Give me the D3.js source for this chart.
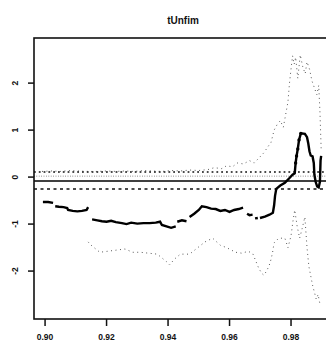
<!DOCTYPE html>
<html>
<head>
<meta charset="utf-8">
<script src="https://cdn.jsdelivr.net/npm/d3@7"></script>
<style>
  html, body { margin: 0; padding: 0; background: #fff; }
  svg { display: block; }
  text { font-family: "Liberation Sans", Arial, sans-serif; font-weight: bold; fill: #111; }
</style>
</head>
<body>
<div id="chart"></div>
<script>
/* tUnfim: estimate with pointwise bands and reference lines */
var title = 'tUnfim';
var xTicks = [0.90, 0.92, 0.94, 0.96, 0.98];
var xTickLabels = ['0.90', '0.92', '0.94', '0.96', '0.98'];
var yTicks = [-2, -1, 0, 1, 2];
var yTickLabels = ['-2', '-1', '0', '1', '2'];

// reference lines: upper dotted, faint dotted, solid, dashed
var refValues = [0.106, 0.02, -0.085, -0.255];

// main estimate (null = break)
var mainX = [0.8993, 0.9010, 0.9026, null,
  0.9033, 0.9045, 0.9060, 0.9072, 0.9075, 0.9090, 0.9105, 0.9120, 0.9135, 0.9140, null,
  0.9153, 0.9170, 0.9185, 0.9200, 0.9215, 0.9230, 0.9250, 0.9265, 0.9280, 0.9300, 0.9320, 0.9340, 0.9360, 0.9374,
  0.9380, 0.9395, 0.9410, 0.9425, null,
  0.9430, 0.9445, 0.9460, null,
  0.9470, 0.9485, 0.9500, 0.9510, 0.9525, 0.9540, 0.9555, 0.9570, 0.9585, 0.9600, 0.9615, 0.9630, 0.9644, null,
  0.9657, 0.9665, 0.9675, null,
  0.9683, 0.9692, null,
  0.9699, 0.9715, 0.9730, 0.9741, 0.9745, 0.9748, 0.9752, 0.9765, 0.9780, 0.9795, 0.9805, 0.9812,
  0.9815, 0.9818, 0.9822, 0.9826, 0.9832, 0.9845, 0.9852, 0.9856, 0.9860, 0.9864, 0.9870, 0.9874,
  0.9876, 0.9880, 0.9885, 0.9890, 0.9894, 0.9896, 0.9898];
var mainY = [-0.53, -0.53, -0.55, null,
  -0.62, -0.63, -0.64, -0.66, -0.70, -0.72, -0.73, -0.72, -0.70, -0.64, null,
  -0.90, -0.92, -0.94, -0.95, -0.93, -0.96, -0.98, -1.00, -0.97, -0.99, -0.98, -0.98, -0.97, -0.95,
  -1.02, -1.05, -1.08, -1.05, null,
  -0.95, -0.92, -0.94, null,
  -0.85, -0.78, -0.70, -0.62, -0.64, -0.67, -0.68, -0.72, -0.70, -0.74, -0.70, -0.68, -0.65, null,
  -0.78, -0.81, -0.80, null,
  -0.88, -0.87, null,
  -0.87, -0.84, -0.80, -0.76, -0.60, -0.40, -0.25, -0.18, -0.12, -0.02, 0.05, 0.08,
  0.30, 0.45, 0.60, 0.79, 0.93, 0.92, 0.85, 0.72, 0.55, 0.46, 0.44, 0.30,
  0.05, -0.10, -0.20, -0.22, -0.10, 0.35, 0.45];

// upper band (dotted)
var upperX = [0.8990, 0.9020, 0.9050, 0.9080, 0.9110, 0.9140, 0.9170, 0.9200, 0.9230, 0.9260, 0.9290, 0.9320,
  0.9350, 0.9380, 0.9410, 0.9440, 0.9470, 0.9500, 0.9530, 0.9550, 0.9575, 0.9590, 0.9610, 0.9625, 0.9645,
  0.9665, 0.9680, 0.9699, 0.9712, 0.9722, 0.9735, 0.9745, 0.9755, 0.9765, 0.9775, 0.9785, 0.9790, 0.9795,
  0.9800, 0.9805, 0.9810, 0.9815, 0.9822, 0.9830, 0.9838, 0.9846, 0.9852, 0.9860, 0.9868, 0.9876, 0.9884,
  0.9890, 0.9894, 0.9896, 0.9898];
var upperY = [0.12, 0.13, 0.12, 0.14, 0.13, 0.12, 0.12, 0.13, 0.12, 0.13, 0.12, 0.14,
  0.13, 0.12, 0.14, 0.13, 0.15, 0.14, 0.16, 0.20, 0.18, 0.24, 0.22, 0.30, 0.28,
  0.35, 0.30, 0.43, 0.52, 0.62, 0.74, 1.00, 1.12, 1.20, 1.06, 1.42, 1.60, 2.00,
  2.30, 2.58, 2.40, 2.55, 2.10, 2.60, 2.35, 2.20, 2.45, 2.30, 2.05, 1.90, 1.75,
  1.95, 1.40, 1.00, 0.60];

// lower band (dotted)
var lowerX = [0.9140, 0.9150, 0.9178, 0.9260, 0.9285, 0.9310, 0.9365, 0.9395, 0.9405, 0.9420, 0.9440,
  0.9470, 0.9520, 0.9545, 0.9570, 0.9590, 0.9620, 0.9640, 0.9660, 0.9675, 0.9695, 0.9705, 0.9712, 0.9720,
  0.9728, 0.9735, 0.9740, 0.9745, 0.9760, 0.9780, 0.9790, 0.9800, 0.9806, 0.9812, 0.9820, 0.9828,
  0.9836, 0.9845, 0.9852, 0.9858, 0.9864, 0.9870, 0.9876, 0.9882, 0.9888, 0.9894];
var lowerY = [-1.38, -1.45, -1.60, -1.53, -1.60, -1.60, -1.64, -1.80, -1.87, -1.75, -1.64,
  -1.64, -1.38, -1.30, -1.45, -1.50, -1.60, -1.62, -1.58, -1.62, -1.94, -2.05, -2.09, -2.00,
  -1.90, -1.75, -1.60, -1.40, -1.30, -1.30, -1.50, -1.25, -0.95, -0.70, -1.05, -1.30,
  -1.10, -0.85, -1.50, -1.90, -2.10, -2.30, -2.45, -2.60, -2.50, -2.70];

var W = 326, H = 343;
var box = { left: 34, top: 38, right: 331, bottom: 319 };

var svg = d3.select('#chart').append('svg')
  .attr('width', W).attr('height', H);

var x = d3.scaleLinear().domain([0.8964, 0.9930]).range([box.left, box.right]);
var y = d3.scaleLinear().domain([-3.02, 2.96]).range([box.bottom, box.top]);

var plot = svg.append('g');

// reference lines
var refStyles = [
  { dash: '1.8,3', w: 1.5, c: '#111' },
  { dash: '0.8,1.6', w: 0.8, c: '#555' },
  { dash: null, w: 1.5, c: '#000' },
  { dash: '3,3.5', w: 1.6, c: '#111' }
];
refValues.forEach(function (v, i) {
  var s = refStyles[i];
  plot.append('line')
    .attr('x1', box.left).attr('x2', box.right)
    .attr('y1', y(v)).attr('y2', y(v))
    .attr('stroke', s.c).attr('stroke-width', s.w)
    .attr('stroke-dasharray', s.dash);
});

// bands as sparse dotted marks
function band(xs, ys) {
  var pts = xs.map(function (d, i) { return [d, ys[i]]; });
  plot.append('path')
    .attr('d', d3.line().x(function (d) { return x(d[0]); }).y(function (d) { return y(d[1]); })(pts))
    .attr('fill', 'none').attr('stroke', '#333').attr('stroke-width', 0.9)
    .attr('stroke-dasharray', '0.9,3.6');
}
band(upperX, upperY);
band(lowerX, lowerY);

// main estimate
var mainPts = mainX.map(function (d, i) { return [d, mainY[i]]; });
plot.append('path')
  .attr('d', d3.line()
    .defined(function (d) { return d[0] != null && d[1] != null; })
    .x(function (d) { return x(d[0]); }).y(function (d) { return y(d[1]); })(mainPts))
  .attr('fill', 'none').attr('stroke', '#000').attr('stroke-width', 2.4);
plot.selectAll('circle.m')
  .data(mainPts.filter(function (d) { return d[0] != null && d[0] > 0.9812 && d[0] < 0.9835; }))
  .enter().append('circle')
  .attr('cx', function (d) { return x(d[0]); })
  .attr('cy', function (d) { return y(d[1]); })
  .attr('r', 1.7).attr('fill', '#000');

// frame
svg.append('rect')
  .attr('x', box.left).attr('y', box.top)
  .attr('width', box.right - box.left).attr('height', box.bottom - box.top)
  .attr('fill', 'none').attr('stroke', '#111').attr('stroke-width', 1.6);

// x axis ticks
xTicks.forEach(function (t, i) {
  svg.append('line')
    .attr('x1', x(t)).attr('x2', x(t))
    .attr('y1', box.bottom).attr('y2', box.bottom + 7)
    .attr('stroke', '#111').attr('stroke-width', 1.5);
  svg.append('text')
    .attr('x', x(t)).attr('y', 340)
    .attr('text-anchor', 'middle').attr('font-size', 8.5)
    .text(xTickLabels[i]);
});

// y axis ticks (labels parallel to axis)
yTicks.forEach(function (t, i) {
  svg.append('line')
    .attr('x1', box.left - 6).attr('x2', box.left)
    .attr('y1', y(t)).attr('y2', y(t))
    .attr('stroke', '#111').attr('stroke-width', 1.5);
  svg.append('text')
    .attr('transform', 'translate(18,' + y(t) + ') rotate(-90)')
    .attr('text-anchor', 'middle').attr('font-size', 8.5)
    .text(yTickLabels[i]);
});

svg.append('text')
  .attr('x', 183).attr('y', 24)
  .attr('text-anchor', 'middle').attr('font-size', 10)
  .text(title);
</script>
</body>
</html>
